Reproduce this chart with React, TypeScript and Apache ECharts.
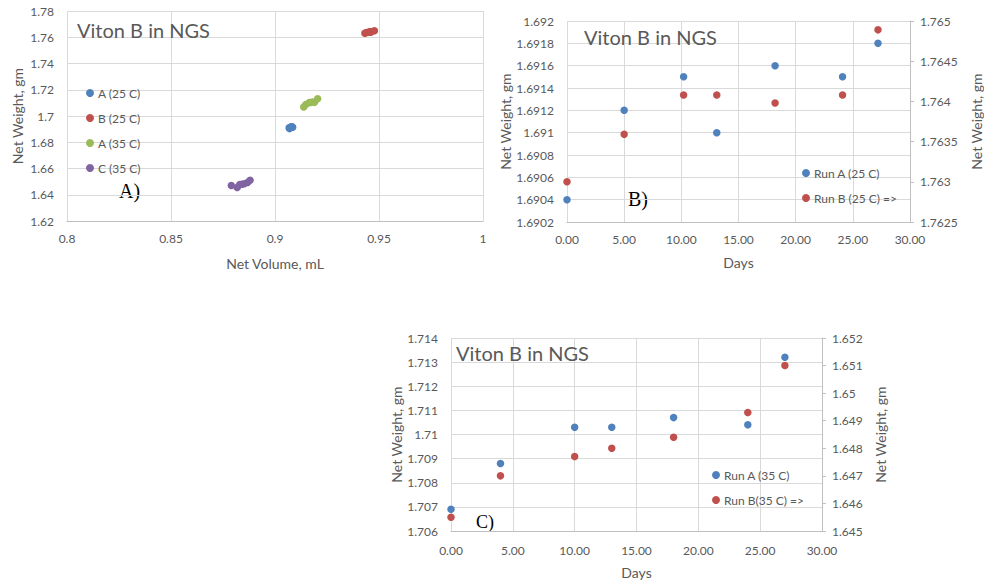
import React, { useEffect, useRef } from 'react';
import * as echarts from 'echarts';

// ---------- Data ----------
// Chart A: net volume (mL) vs net weight (gm)
const volA25 = [0.9070, 0.9075, 0.9080, 0.9068, 0.9082, 0.9085, 0.9078];
const volB25 = [0.9432, 0.9440, 0.9455, 0.9458, 0.9452, 0.9462, 0.9478];
const volA35 = [0.9138, 0.9148, 0.9165, 0.9170, 0.9180, 0.9190, 0.9205];
const volC35 = [0.8818, 0.8790, 0.8830, 0.8840, 0.8852, 0.8868, 0.8880];

// Chart B: 25 C runs
const daysB = [0, 5, 10.2, 13.1, 18.2, 24.1, 27.2];
const runA25 = [1.6904, 1.6912, 1.6915, 1.6910, 1.6916, 1.6915, 1.6918];
const runB25 = [1.7630, 1.76359, 1.76408, 1.76408, 1.76398, 1.76408, 1.76489];

// Chart C: 35 C runs
const daysC = [0, 4, 10, 13, 18, 24, 27];
const runA35 = [1.7069, 1.7088, 1.7103, 1.7103, 1.7107, 1.7104, 1.7132];
const runB35 = [1.6455, 1.6470, 1.6477, 1.6480, 1.6484, 1.6493, 1.6510];

const legendA = ['A (25 C)', 'B (25 C)', 'A (35 C)', 'C (35 C)'];
const legendB = ['Run A (25 C)', 'Run B (25 C) =>'];
const legendC = ['Run A (35 C)', 'Run B(35 C) =>'];
const titleText = 'Viton B in NGS';

const BLUE = '#4F81BD';
const RED = '#C0504D';
const GREEN = '#9BBB59';
const PURPLE = '#8064A2';
const TXT = '#595959';
const GRID = '#d9d9d9';
const FONT = 'Lato, "Open Sans", sans-serif';

const zip = (a: number[], b: number[]) => a.map((v, i) => [v, b[i]]);
const num = (v: number) => String(parseFloat(v.toFixed(6)));
const day = (v: number) => v.toFixed(2);

export default function App() {
  const ref = useRef<HTMLDivElement>(null);
  useEffect(() => {
    if (!ref.current) return;
    const chart = echarts.init(ref.current, undefined, { renderer: 'svg' });

    const label = { color: TXT, fontFamily: FONT, fontSize: 12 };
    const nameStyle = { color: TXT, fontFamily: FONT, fontSize: 14 };
    const split = { show: true, lineStyle: { color: GRID, width: 1 } };
    const xBase = (grid: number, extra: any) => ({
      gridIndex: grid,
      type: 'value',
      nameLocation: 'middle',
      nameTextStyle: nameStyle,
      axisLine: { show: true, lineStyle: { color: '#bfbfbf' } },
      axisTick: { show: false },
      axisLabel: { ...label, margin: 11 },
      splitLine: split,
      ...extra,
    });
    const yLeft = (grid: number, extra: any) => ({
      gridIndex: grid,
      type: 'value',
      position: 'left',
      nameLocation: 'middle',
      nameRotate: 90,
      nameTextStyle: nameStyle,
      axisLine: { show: false },
      axisTick: { show: false },
      axisLabel: { ...label, margin: 13, formatter: num },
      splitLine: split,
      ...extra,
    });
    const yRight = (grid: number, extra: any) => ({
      gridIndex: grid,
      type: 'value',
      position: 'right',
      nameLocation: 'middle',
      nameRotate: 90,
      nameTextStyle: nameStyle,
      axisLine: { show: true, lineStyle: { color: '#bfbfbf' } },
      axisTick: { show: true, length: 4, lineStyle: { color: '#bfbfbf' } },
      axisLabel: { ...label, margin: 10, formatter: num },
      splitLine: { show: false },
      ...extra,
    });
    const sc = (name: string, data: number[][], color: string, xi: number, yi: number) => ({
      name,
      type: 'scatter',
      xAxisIndex: xi,
      yAxisIndex: yi,
      data,
      symbol: 'circle',
      symbolSize: 7.5,
      itemStyle: { color, opacity: 1 },
    });
    const legendCommon = {
      orient: 'vertical',
      icon: 'circle',
      itemWidth: 8,
      itemHeight: 8,
      padding: 0,
      itemGap: 11,
      textStyle: { color: TXT, fontFamily: FONT, fontSize: 12, lineHeight: 14, padding: [0, 0, 0, -1] },
    };
    const titleCommon = {
      padding: 0,
      textStyle: { color: TXT, fontFamily: FONT, fontSize: 20, fontWeight: 'normal' },
    };

    chart.setOption({
      animation: false,
      backgroundColor: '#ffffff',
      title: [
        { ...titleCommon, text: titleText, left: 77, top: 20 },
        { ...titleCommon, text: titleText, left: 584, top: 27 },
        { ...titleCommon, text: titleText, left: 456, top: 343 },
      ],
      legend: [
        { ...legendCommon, data: legendA, left: 86, top: 86 },
        { ...legendCommon, data: legendB, left: 802, top: 166 },
        { ...legendCommon, data: legendC, left: 712, top: 468 },
      ],
      grid: [
        { left: 67, top: 11, right: 501, bottom: 360 },
        { left: 567, top: 21, right: 71, bottom: 359 },
        { left: 451, top: 338, right: 162, bottom: 50 },
      ],
      xAxis: [
        xBase(0, { min: 0.8, max: 1, interval: 0.05, name: 'Net Volume, mL', nameGap: 35, axisLabel: { ...label, margin: 11, formatter: num } }),
        xBase(1, { min: 0, max: 30, interval: 5, name: 'Days', nameGap: 33, axisLabel: { ...label, margin: 11, formatter: day } }),
        xBase(2, { min: 0, max: 30, interval: 5, name: 'Days', nameGap: 34, axisLabel: { ...label, margin: 13, formatter: day } }),
      ],
      yAxis: [
        yLeft(0, { min: 1.62, max: 1.78, interval: 0.02, name: 'Net Weight, gm', nameGap: 43 }),
        yLeft(1, { min: 1.6902, max: 1.692, interval: 0.0002, name: 'Net Weight, gm', nameGap: 55 }),
        yRight(1, { min: 1.7625, max: 1.765, interval: 0.0005, name: 'Net Weight, gm', nameGap: 59 }),
        yLeft(2, { min: 1.706, max: 1.714, interval: 0.001, name: 'Net Weight, gm', nameGap: 47 }),
        yRight(2, { min: 1.645, max: 1.652, interval: 0.001, name: 'Net Weight, gm', nameGap: 51 }),
      ],
      series: [
        sc('A (25 C)', zip(volA25, runA25), BLUE, 0, 0),
        sc('B (25 C)', zip(volB25, runB25), RED, 0, 0),
        sc('A (35 C)', zip(volA35, runA35), GREEN, 0, 0),
        sc('C (35 C)', zip(volC35, runB35), PURPLE, 0, 0),
        sc('Run A (25 C)', zip(daysB, runA25), BLUE, 1, 1),
        sc('Run B (25 C) =>', zip(daysB, runB25), RED, 1, 2),
        sc('Run A (35 C)', zip(daysC, runA35), BLUE, 2, 3),
        sc('Run B(35 C) =>', zip(daysC, runB35), RED, 2, 4),
      ],
      graphic: [
        { type: 'text', x: 119, y: 191, style: { text: 'A)', font: '20px "Liberation Serif", serif', fill: '#000', verticalAlign: 'middle' } },
        { type: 'text', x: 628, y: 199, style: { text: 'B)', font: '20px "Liberation Serif", serif', fill: '#000', verticalAlign: 'middle' } },
        { type: 'text', x: 476, y: 522, style: { text: 'C)', font: '18px "Liberation Serif", serif', fill: '#000', verticalAlign: 'middle' } },
      ],
    });
    return () => chart.dispose();
  }, []);
  return <div ref={ref} style={{ position: 'absolute', left: 0, top: 0, width: 984, height: 581 }} />;
}
